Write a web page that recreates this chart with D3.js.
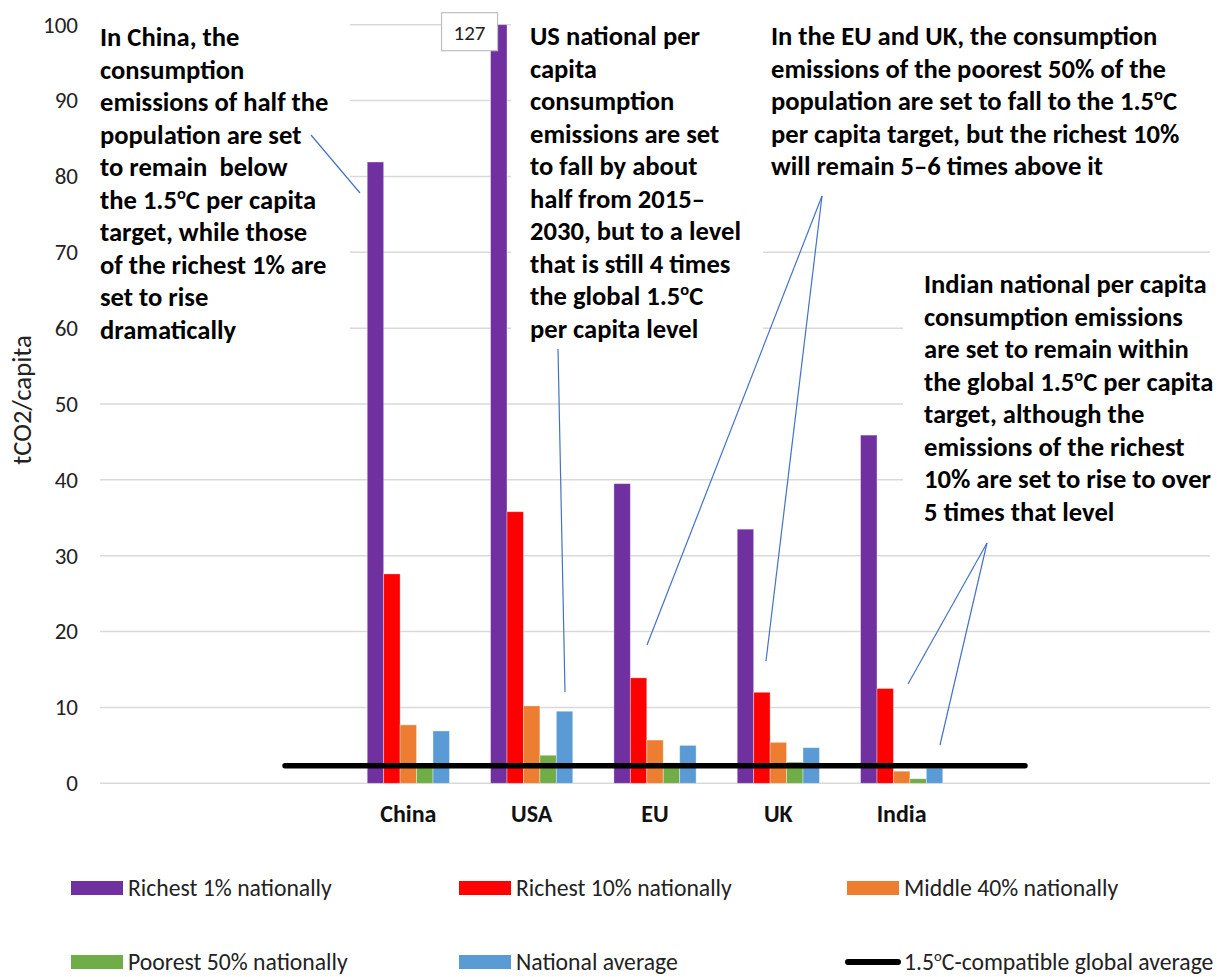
<!DOCTYPE html>
<html>
<head>
<meta charset="utf-8">
<script src="https://cdn.jsdelivr.net/npm/d3@7"></script>
<style>
  body { margin: 0; background: #fff; }
  svg text { font-family: Carlito, Calibri, Lato, sans-serif; }
</style>
</head>
<body>
<div id="chart"></div>
<script>
// Consumption emissions per capita, 2030 projections by income group.
const categories = ["", "", "China", "USA", "EU", "UK", "India", "", ""];
const richest1 = [null, null, 81.9, 127, 39.5, 33.5, 45.9, null, null];
const richest10 = [null, null, 27.6, 35.8, 13.9, 12.0, 12.5, null, null];
const middle40 = [null, null, 7.7, 10.2, 5.7, 5.4, 1.6, null, null];
const poorest50 = [null, null, 2.2, 3.7, 2.7, 2.8, 0.6, null, null];
const nationalAvg = [null, null, 6.9, 9.5, 5.0, 4.7, 2.0, null, null];
const globalTarget = [null, 2.3, 2.3, 2.3, 2.3, 2.3, 2.3, 2.3, null];
const yTicks = [0, 10, 20, 30, 40, 50, 60, 70, 80, 90, 100];

const seriesNames = [
  "Richest 1% nationally",
  "Richest 10% nationally",
  "Middle 40% nationally",
  "Poorest 50% nationally",
  "National average",
];
const seriesValues = [richest1, richest10, middle40, poorest50, nationalAvg];
const seriesColors = ["#7030A0", "#FF0000", "#ED7D31", "#70AD47", "#5B9BD5"];
const lineName = "1.5{o}C-compatible global average";

const width = 1229;
const height = 977;
const plot = { left: 100, right: 1210, top: 24.7, bottom: 783.3 };

const svg = d3.select("#chart").append("svg")
  .attr("width", width)
  .attr("height", height)
  .attr("viewBox", `0 0 ${width} ${height}`);

const y = d3.scaleLinear().domain([0, 100]).range([plot.bottom, plot.top]);
const x = d3.scaleBand()
  .domain(d3.range(categories.length))
  .range([plot.left, plot.right])
  .paddingInner(1 / 3)
  .paddingOuter(1 / 6);
const xs = d3.scaleBand().domain(d3.range(seriesNames.length)).range([0, x.bandwidth()]);

// gridlines
svg.append("g")
  .selectAll("line")
  .data(yTicks)
  .join("line")
  .attr("x1", plot.left)
  .attr("x2", plot.right)
  .attr("y1", (d) => y(d))
  .attr("y2", (d) => y(d))
  .attr("stroke", "#d9d9d9")
  .attr("stroke-width", 1.5);

// y tick labels
svg.append("g")
  .selectAll("text")
  .data(yTicks)
  .join("text")
  .attr("x", 78)
  .attr("y", (d) => y(d))
  .attr("dy", "0.34em")
  .attr("text-anchor", "end")
  .attr("fill", "#222")
  .style("font-size", "23px")
  .text((d) => d);

svg.append("text")
  .attr("transform", "translate(31,400) rotate(-90)")
  .attr("text-anchor", "middle")
  .attr("fill", "#222")
  .style("font-size", "26.7px")
  .text("tCO2/capita");

// bars
const clampY = (v) => y(Math.min(v, 100));
const barGroups = svg.append("g")
  .selectAll("g")
  .data(seriesValues)
  .join("g")
  .attr("fill", (d, i) => seriesColors[i]);

barGroups.each(function (values, si) {
  d3.select(this)
    .selectAll("rect")
    .data(values.map((v, ci) => ({ v, ci })).filter((d) => d.v != null))
    .join("rect")
    .attr("x", (d) => x(d.ci) + xs(si))
    .attr("width", xs.bandwidth())
    .attr("y", (d) => clampY(d.v))
    .attr("height", (d) => y(0) - clampY(d.v))
    .attr("stroke", "#fff")
    .attr("stroke-opacity", 0.45)
    .attr("stroke-width", 0.8);
});

// category labels
svg.append("g")
  .selectAll("text")
  .data(categories.map((c, i) => ({ c, i })).filter((d) => d.c))
  .join("text")
  .attr("x", (d) => x(d.i) + x.bandwidth() / 2)
  .attr("y", 822)
  .attr("text-anchor", "middle")
  .attr("fill", "#111")
  .style("font-size", "24px")
  .style("font-weight", "bold")
  .text((d) => d.c);

// 1.5C global average line
const linePts = globalTarget.map((v, i) => ({ v, i })).filter((d) => d.v != null);
svg.append("path")
  .datum(linePts)
  .attr("fill", "none")
  .attr("stroke", "#000")
  .attr("stroke-width", 5.5)
  .attr("stroke-linecap", "round")
  .attr("d", d3.line().x((d) => x(d.i) + x.bandwidth() / 2).y((d) => y(d.v)));

// writes a line of text, turning {o} into a superscript o
function writeRich(sel, str, size) {
  let lift = 0;
  str.split(/(\{o\})/).forEach((part) => {
    if (!part) return;
    if (part === "{o}") {
      lift = size * 0.36;
      sel.append("tspan")
        .attr("dy", -lift)
        .style("font-size", `${size * 0.62}px`)
        .text("o");
    } else {
      sel.append("tspan").attr("dy", lift || null).text(part);
      lift = 0;
    }
  });
}

// data label for the clipped USA bar
const usaIdx = categories.indexOf("USA");
const labelBox = svg.append("g")
  .attr("transform", `translate(${x(usaIdx) - 49},${plot.top - 12})`);
labelBox.append("rect")
  .attr("width", 56)
  .attr("height", 38)
  .attr("fill", "#fff")
  .attr("stroke", "#bfbfbf")
  .attr("stroke-width", 1.2);
labelBox.append("text")
  .attr("x", 28)
  .attr("y", 27)
  .attr("text-anchor", "middle")
  .attr("fill", "#222")
  .style("font-size", "21px")
  .text(richest1[usaIdx]);

// annotations
const annotations = [
  {
    box: [95, 12, 255, 338], x: 100, y: 46,
    lines: ["In China, the", "consumption", "emissions of half the", "population are set",
      "to remain  below", "the 1.5{o}C per capita", "target, while those",
      "of the richest 1% are", "set to rise", "dramatically"],
    leaders: [[[311, 135], [360, 193]]],
  },
  {
    box: [511, 12, 252, 338], x: 530, y: 45,
    lines: ["US national per", "capita", "consumption", "emissions are set",
      "to fall by about", "half from 2015\u2013", "2030, but to a level",
      "that is still 4 times", "the global 1.5{o}C", "per capita level"],
    leaders: [[[558, 349], [565, 692]]],
  },
  {
    box: [763, 0, 466, 190], x: 771, y: 45,
    lines: ["In the EU and UK, the consumption", "emissions of the poorest 50% of the",
      "population are set to fall to the 1.5{o}C", "per capita target, but the richest 10%",
      "will remain 5\u20136 times above it"],
    leaders: [[[822, 196], [647, 645]], [[822, 196], [766, 661]]],
  },
  {
    box: [903, 262, 326, 272], x: 924, y: 293,
    lines: ["Indian national per capita", "consumption emissions", "are set to remain within",
      "the global 1.5{o}C per capita", "target, although the", "emissions of the richest",
      "10% are set to rise to over", "5 times that level"],
    leaders: [[[987, 543], [908, 684]], [[987, 543], [940, 745]]],
  },
];

const annoSize = 26.6;
const annoGap = 32.5;
annotations.forEach((a) => {
  const g = svg.append("g");
  g.append("rect")
    .attr("x", a.box[0]).attr("y", a.box[1])
    .attr("width", a.box[2]).attr("height", a.box[3])
    .attr("fill", "#fff");
  a.lines.forEach((ln, i) => {
    const t = g.append("text")
      .attr("x", a.x)
      .attr("y", a.y + i * annoGap)
      .attr("fill", "#000")
      .style("font-size", `${annoSize}px`)
      .style("font-weight", "bold")
      .style("white-space", "pre");
    writeRich(t, ln, annoSize);
  });
  a.leaders.forEach((pts) => {
    svg.append("line")
      .attr("x1", pts[0][0]).attr("y1", pts[0][1])
      .attr("x2", pts[1][0]).attr("y2", pts[1][1])
      .attr("stroke", "#4472C4")
      .attr("stroke-width", 1.2);
  });
});

// legend
const legendItems = seriesNames.map((name, i) => ({ name, color: seriesColors[i], type: "bar" }));
legendItems.push({ name: lineName, color: "#000", type: "line" });
const legendCols = [71, 459, 847];
const legendRows = [888, 962];
const legendSize = 23.7;

const legend = svg.append("g")
  .selectAll("g")
  .data(legendItems)
  .join("g")
  .attr("transform", (d, i) => `translate(${legendCols[i % 3]},${legendRows[Math.floor(i / 3)]})`);

legend.filter((d) => d.type === "bar")
  .append("rect")
  .attr("x", 0).attr("y", -7)
  .attr("width", 52).attr("height", 14)
  .attr("fill", (d) => d.color);

legend.filter((d) => d.type === "line")
  .append("line")
  .attr("x1", 1).attr("x2", 51)
  .attr("stroke", "#000")
  .attr("stroke-width", 6)
  .attr("stroke-linecap", "round");

legend.append("text")
  .attr("x", 57)
  .attr("y", 7.5)
  .attr("fill", "#222")
  .style("font-size", `${legendSize}px`)
  .each(function (d) {
    writeRich(d3.select(this), d.name, legendSize);
  });
</script>
</body>
</html>
